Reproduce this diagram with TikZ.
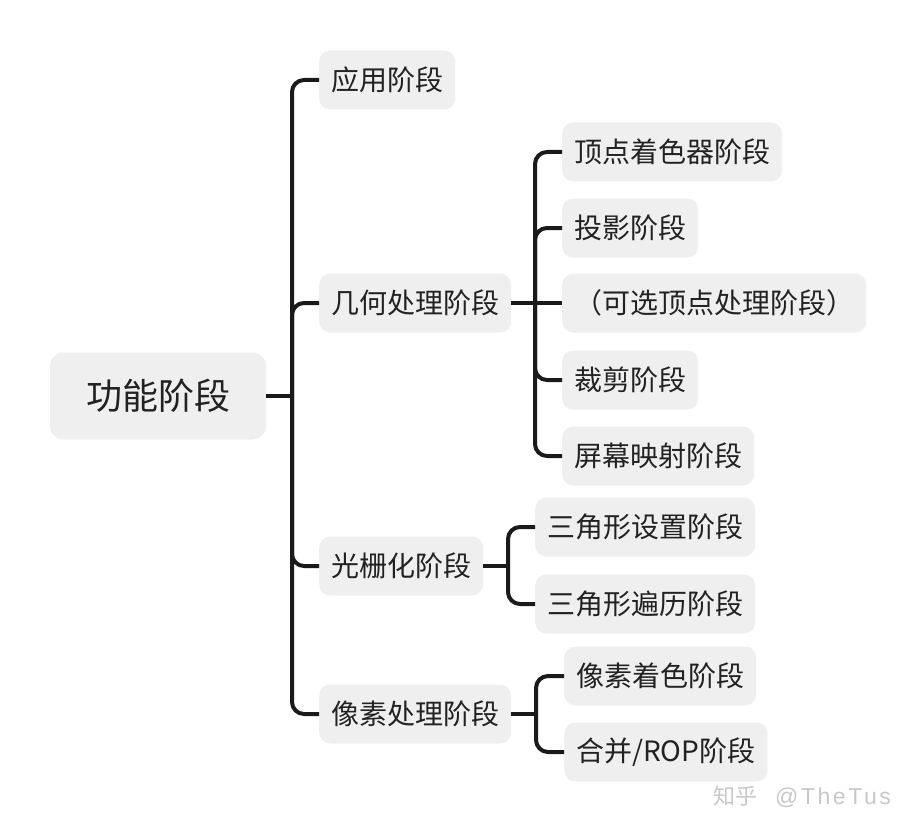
\documentclass[tikz,border=0pt]{standalone}
\usepackage{fontspec}
\setmainfont{Noto Sans CJK SC}
\newfontfamily\markfont[LetterSpace=11]{Liberation Sans}
\usepackage{tikz}
\usetikzlibrary{calc}
\definecolor{boxgray}{RGB}{239,239,239}
\definecolor{inkgray}{RGB}{34,34,34}
\definecolor{linkblack}{RGB}{26,26,26}
\definecolor{markgray}{RGB}{200,200,200}
\tikzset{
  stagebox/.style={fill=boxgray, rounded corners=11pt, text=inkgray, inner xsep=12pt, inner ysep=0pt,
    minimum height=59pt, anchor=west, font=\fontsize{28}{32}\selectfont},
  rootbox/.style={fill=boxgray, rounded corners=13pt, text=inkgray, minimum width=216pt,
    minimum height=87pt, font=\fontsize{36}{40}\selectfont},
  link/.style={draw=linkblack, line width=4pt},
}

\begin{document}
\begin{tikzpicture}[x=1pt,y=-1pt]
    \useasboundingbox (0,0) rectangle (916,832);
    % root and first level
    \node[rootbox] (root) at (158,396) {功能阶段};
    \node[stagebox] (app) at (319,80) {应用阶段};
    \node[stagebox] (geo) at (319,303) {几何处理阶段};
    \node[stagebox] (ras) at (319,566) {光栅化阶段};
    \node[stagebox] (pix) at (319,714) {像素处理阶段};
    % geometry stage
    \node[stagebox] (vs) at (562,152) {顶点着色器阶段};
    \node[stagebox] (proj) at (562,228) {投影阶段};
    \node[stagebox] (opt) at (562,303) {（可选顶点处理阶段）};
    \node[stagebox] (clip) at (562,380) {裁剪阶段};
    \node[stagebox] (scr) at (562,456) {屏幕映射阶段};
    % rasterization stage
    \node[stagebox] (tset) at (535,527) {三角形设置阶段};
    \node[stagebox] (ttrav) at (535,604) {三角形遍历阶段};
    % pixel stage
    \node[stagebox] (pshade) at (564,676) {像素着色阶段};
    \node[stagebox] (merge) at (564,752) {合并/ROP阶段};
    \node[text=markgray, anchor=west, inner sep=0pt, font=\fontsize{22}{26}\selectfont] (mark) at (713,797)
      {知乎\hspace{18pt}{\markfont\fontsize{23}{26}\selectfont @TheTus}};
    % junctions
    \coordinate (jroot) at (292,396);
    \coordinate (jgeo) at (535,303);
    \coordinate (jras) at (508,566);
    \coordinate (jpix) at (536,714);
    % connectors
    \draw[link] (root.east) -- (jroot);
    \foreach \c in {app,geo,ras,pix}
      \draw[link, rounded corners=12pt] (jroot) |- (\c.west);
    \draw[link] (geo.east) -- (opt.west);
    \foreach \c in {vs,proj,clip,scr}
      \draw[link, rounded corners=12pt] (jgeo) |- (\c.west);
    \draw[link] (ras.east) -- (jras);
    \foreach \c in {tset,ttrav}
      \draw[link, rounded corners=12pt] (jras) |- (\c.west);
    \draw[link] (pix.east) -- (jpix);
    \foreach \c in {pshade,merge}
      \draw[link, rounded corners=12pt] (jpix) |- (\c.west);
\end{tikzpicture}
\end{document}
